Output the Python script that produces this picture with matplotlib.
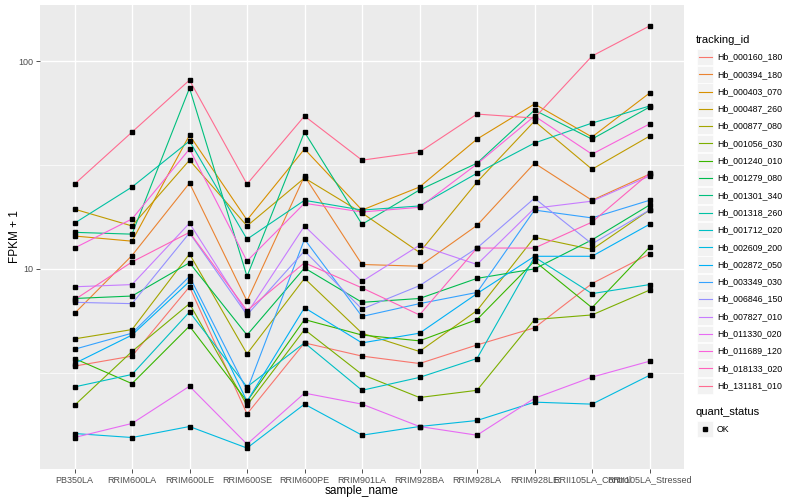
"""
Recreate the ggplot-style FPKM line chart (log10 y-axis) with matplotlib.
- 20 transcripts across 11 samples, hue palette colours
- Black point markers, grey panel, manual ggplot-like legend
- Saves to out.png (800x500)
"""

import matplotlib
matplotlib.use("Agg")
import matplotlib.pyplot as plt
from matplotlib.lines import Line2D
from matplotlib.patches import Rectangle
from matplotlib.ticker import FixedLocator, FixedFormatter, NullFormatter

plt.rcParams["font.family"] = ["Liberation Sans", "DejaVu Sans"]

samples = ["PB350LA", "RRIM600LA", "RRIM600LE", "RRIM600SE", "RRIM600PE",
           "RRIM901LA", "RRIM928BA", "RRIM928LA", "RRIM928LE",
           "RRII105LA_Control", "RRII105LA_Stressed"]

tracking_ids = ["Hb_000160_180", "Hb_000394_180", "Hb_000403_070", "Hb_000487_260",
                "Hb_000877_080", "Hb_001056_030", "Hb_001240_010", "Hb_001279_080",
                "Hb_001301_340", "Hb_001318_260", "Hb_001712_020", "Hb_002609_200",
                "Hb_002872_050", "Hb_003349_030", "Hb_006846_150", "Hb_007827_010",
                "Hb_011330_020", "Hb_011689_120", "Hb_018133_020", "Hb_131181_010"]

# ggplot hue_pal()(20)
colors = ["#F8766D", "#EA8331", "#D89000", "#C09B00", "#A3A500", "#7CAE00",
          "#39B600", "#00BB4E", "#00BF7D", "#00C1A3", "#00BFC4", "#00BAE0",
          "#00B0F6", "#35A2FF", "#9590FF", "#C77CFF", "#E76BF3", "#FA62DB",
          "#FF62BC", "#FF6C91"]

# FPKM + 1 per sample
hb_000160_180 = [3.4, 3.8, 8.2, 2.0, 4.4, 3.8, 3.5, 4.3, 5.2, 8.5, 11.8]
hb_000394_180 = [6.1, 11.6, 25.9, 7.0, 28.0, 10.5, 10.3, 16.2, 32.3, 21.4, 28.6]
hb_000403_070 = [14.4, 13.6, 44.1, 17.2, 37.8, 19.2, 24.8, 42.2, 62.3, 43.2, 70.3]
hb_000487_260 = [19.4, 16.1, 33.4, 16.1, 27.4, 18.6, 12.0, 26.2, 51.5, 30.2, 43.6]
hb_000877_080 = [4.6, 5.1, 11.8, 3.9, 9.0, 4.9, 4.0, 6.3, 14.2, 12.4, 19.2]
hb_001056_030 = [2.2, 4.0, 6.8, 2.2, 5.1, 3.1, 2.4, 2.6, 5.7, 6.0, 7.9]
hb_001240_010 = [3.7, 2.8, 5.3, 2.3, 5.7, 4.8, 4.5, 5.7, 10.9, 6.5, 12.7]
hb_001279_080 = [7.2, 7.4, 10.7, 4.8, 10.1, 6.9, 7.2, 9.0, 10.0, 13.8, 20.3]
hb_001301_340 = [15.0, 14.7, 74.3, 9.2, 45.6, 16.4, 24.0, 32.3, 58.2, 42.2, 60.2]
hb_001318_260 = [16.6, 24.8, 41.3, 13.9, 21.4, 19.2, 20.1, 28.9, 40.4, 50.4, 60.9]
hb_001712_020 = [2.7, 3.1, 6.2, 2.7, 4.4, 2.6, 3.0, 3.7, 11.4, 7.6, 8.4]
hb_002609_200 = [1.61, 1.54, 1.74, 1.37, 2.23, 1.58, 1.74, 1.86, 2.28, 2.23, 3.07]
hb_002872_050 = [3.5, 4.8, 8.7, 2.3, 6.5, 4.4, 4.9, 7.6, 11.5, 11.5, 16.4]
hb_003349_030 = [4.1, 4.9, 9.2, 2.6, 13.9, 5.9, 6.8, 7.7, 19.2, 17.6, 21.4]
hb_006846_150 = [6.9, 6.8, 14.9, 6.0, 12.2, 6.4, 8.3, 12.6, 21.9, 13.2, 19.2]
hb_007827_010 = [8.2, 8.4, 16.6, 6.1, 16.1, 8.7, 13.0, 10.5, 19.6, 21.2, 28.0]
hb_011330_020 = [1.54, 1.80, 2.72, 1.43, 2.52, 2.23, 1.74, 1.58, 2.38, 3.01, 3.59]
hb_011689_120 = [12.6, 17.4, 37.8, 10.9, 20.7, 18.8, 19.8, 32.0, 54.5, 35.7, 49.9]
hb_018133_020 = [7.1, 10.8, 15.0, 6.3, 10.7, 8.1, 6.0, 12.6, 12.6, 16.8, 28.9]
hb_131181_010 = [25.6, 45.6, 81.2, 25.6, 54.5, 33.4, 36.5, 55.7, 53.3, 106.0, 148.0]

series = [hb_000160_180, hb_000394_180, hb_000403_070, hb_000487_260,
          hb_000877_080, hb_001056_030, hb_001240_010, hb_001279_080,
          hb_001301_340, hb_001318_260, hb_001712_020, hb_002609_200,
          hb_002872_050, hb_003349_030, hb_006846_150, hb_007827_010,
          hb_011330_020, hb_011689_120, hb_018133_020, hb_131181_010]

W, H = 800, 500
fig = plt.figure(figsize=(8, 5), dpi=100)

# panel in pixel coords: x 40..684, y 5..469
ax = fig.add_axes([40 / W, 1 - 469 / H, 644 / W, 464 / H])
ax.set_facecolor("#EBEBEB")
for s in ax.spines.values():
    s.set_visible(False)

x = list(range(len(samples)))

# --- lines then points ---
for vals, col in zip(series, colors):
    ax.plot(x, vals, color=col, lw=0.8, zorder=3)
for vals in series:
    ax.plot(x, vals, ls="none", marker="s", ms=2.8, color="black", zorder=4)

ax.set_yscale("log")
ax.set_ylim(1.086, 186.8)
ax.set_xlim(-0.6, 10.6)

ax.set_xticks(x)
ax.set_xticklabels(samples)
ax.yaxis.set_major_locator(FixedLocator([10, 100]))
ax.yaxis.set_major_formatter(FixedFormatter(["10", "100"]))
ax.yaxis.set_minor_locator(FixedLocator([10 ** 0.5, 10 ** 1.5]))
ax.yaxis.set_minor_formatter(NullFormatter())

ax.grid(which="major", color="white", lw=1.0, zorder=0)
ax.grid(which="minor", axis="y", color="white", lw=0.5, zorder=0)
ax.set_axisbelow(True)

ax.tick_params(which="major", length=2.75, width=0.6, color="#333333",
               labelsize=6.5, labelcolor="#4D4D4D", pad=2)
ax.tick_params(which="minor", length=0)

ax.set_xlabel("sample_name", fontsize=8.5, labelpad=0)
ax.set_ylabel("FPKM + 1", fontsize=8.5, labelpad=-2)


# --- legend drawn by hand (pixel coords) ---
def fx(px):
    return px / W


def fy(py):
    return 1 - py / H


fig.text(fx(696), fy(40), "tracking_id", fontsize=8, va="center", ha="left")
for i, (tid, col) in enumerate(zip(tracking_ids, colors)):
    yc = 57 + i * 17.3
    fig.add_artist(Rectangle((fx(697), fy(yc + 8.2)), 16 / W, 16.4 / H,
                             transform=fig.transFigure, facecolor="#F2F2F2",
                             edgecolor="white", lw=0.5))
    fig.add_artist(Line2D([fx(698.5), fx(711.5)], [fy(yc), fy(yc)],
                          transform=fig.transFigure, color=col, lw=0.8))
    fig.text(fx(717), fy(yc), tid, fontsize=6.3, va="center", ha="left")

fig.text(fx(696), fy(412), "quant_status", fontsize=8, va="center", ha="left")
fig.add_artist(Rectangle((fx(697), fy(429 + 8.2)), 16 / W, 16.4 / H,
                         transform=fig.transFigure, facecolor="#F2F2F2",
                         edgecolor="white", lw=0.5))
fig.add_artist(Line2D([fx(705)], [fy(429)], transform=fig.transFigure,
                      ls="none", marker="s", ms=2.8, color="black"))
fig.text(fx(717), fy(429), "OK", fontsize=6.3, va="center", ha="left")

fig.savefig("out.png", dpi=100)
